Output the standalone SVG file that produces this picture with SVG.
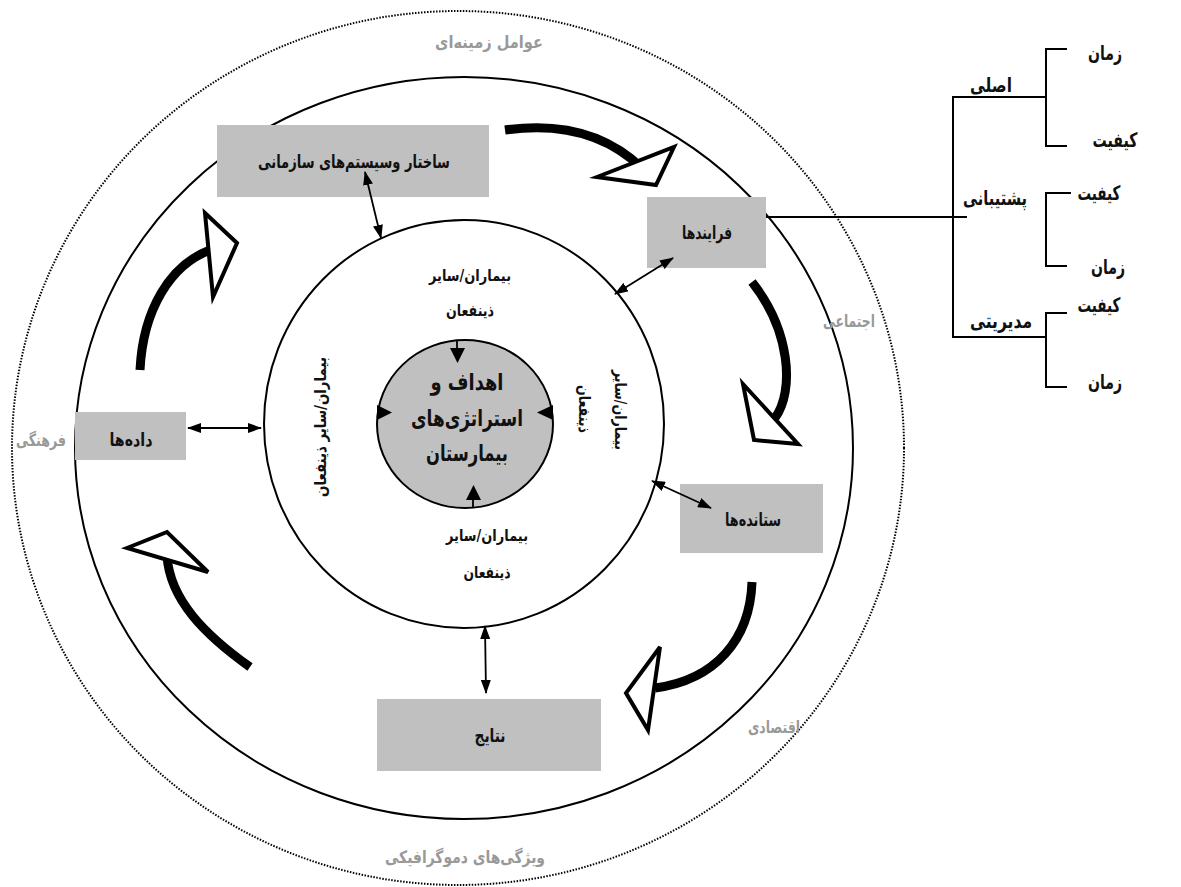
<svg xmlns="http://www.w3.org/2000/svg" width="1181" height="887" viewBox="0 0 1181 887">
<style>
  text { font-family: "DejaVu Sans", "Noto Sans", sans-serif; font-weight: bold; text-anchor: middle; dominant-baseline: central; direction: rtl; }
  .box { fill: #c0c0c0; stroke: none; }
  .lbl { font-size: 18px; fill: #111; }
  .ring { font-size: 16px; fill: #111; }
  .ctx { font-size: 17px; fill: #999; }
  .tree { font-size: 20px; fill: #111; }
  .core { font-size: 23px; fill: #111; }
  .thin { stroke: #000; stroke-width: 1.8; fill: none; marker-start: url(#ah); marker-end: url(#ah); }
  .body { stroke: #000; stroke-width: 9; fill: none; }
  .head { fill: #fff; stroke: #000; stroke-width: 4; stroke-linejoin: miter; }
  .tl { stroke: #000; stroke-width: 2; fill: none; }
</style>
<defs>
  <marker id="ah" viewBox="0 0 14 10" refX="13" refY="5" markerWidth="14" markerHeight="10" markerUnits="userSpaceOnUse" orient="auto-start-reverse">
    <path d="M0,0 L14,5 L0,10 z" fill="#000"/>
  </marker>
</defs>
<rect width="1181" height="887" fill="#fff"/>

<g id="rings">
  <ellipse cx="458" cy="448" rx="446" ry="437" fill="none" stroke="#000" stroke-width="2" stroke-dasharray="1.5 1.5"/>
  <ellipse cx="464" cy="448" rx="389" ry="371" fill="none" stroke="#000" stroke-width="2"/>
  <ellipse cx="464" cy="424" rx="200" ry="204" fill="#fff" stroke="#000" stroke-width="2"/>
</g>

<g id="context-labels">
  <text class="ctx" x="489" y="42" textLength="108" lengthAdjust="spacingAndGlyphs">عوامل زمینه‌ای</text>
  <text class="ctx" x="849" y="321" textLength="52" lengthAdjust="spacingAndGlyphs">اجتماعی</text>
  <text class="ctx" x="41" y="440" textLength="50" lengthAdjust="spacingAndGlyphs">فرهنگی</text>
  <text class="ctx" x="774" y="727" textLength="52" lengthAdjust="spacingAndGlyphs">اقتصادی</text>
  <text class="ctx" x="465" y="857" textLength="160" lengthAdjust="spacingAndGlyphs">ویژگی‌های دموگرافیکی</text>
</g>

<g id="core">
  <ellipse cx="465" cy="424" rx="88" ry="84" fill="#c0c0c0" stroke="#000" stroke-width="2"/>
  <text class="core" x="467" y="382" textLength="73" lengthAdjust="spacingAndGlyphs">اهداف و</text>
  <text class="core" x="467" y="418" textLength="112" lengthAdjust="spacingAndGlyphs">استراتژی‌های</text>
  <text class="core" x="467" y="453" textLength="82" lengthAdjust="spacingAndGlyphs">بیمارستان</text>
</g>

<g id="stakeholders">
  <text class="ring" x="470" y="275" textLength="82" lengthAdjust="spacingAndGlyphs">بیماران/سایر</text>
  <text class="ring" x="470" y="310" textLength="48" lengthAdjust="spacingAndGlyphs">ذینفعان</text>
  <text class="ring" x="487" y="535" textLength="82" lengthAdjust="spacingAndGlyphs">بیماران/سایر</text>
  <text class="ring" x="487" y="572" textLength="47" lengthAdjust="spacingAndGlyphs">ذینفعان</text>
  <text class="ring" transform="translate(320,427) rotate(-90)" textLength="140" lengthAdjust="spacingAndGlyphs">بیماران/سایر ذینفعان</text>
  <text class="ring" transform="translate(620,410) rotate(90)" textLength="80" lengthAdjust="spacingAndGlyphs">بیماران/سایر</text>
  <text class="ring" transform="translate(584,409) rotate(90)" textLength="48" lengthAdjust="spacingAndGlyphs">ذینفعان</text>
</g>

<g id="node-structure">
  <rect class="box" x="217" y="125" width="272" height="72"/>
  <text class="lbl" x="354" y="161" textLength="192" lengthAdjust="spacingAndGlyphs">ساختار وسیستم‌های سازمانی</text>
</g>
<g id="node-processes">
  <rect class="box" x="647" y="197" width="119" height="71"/>
  <text class="lbl" x="707" y="232" textLength="50" lengthAdjust="spacingAndGlyphs">فرایندها</text>
</g>
<g id="node-outputs">
  <rect class="box" x="680" y="484" width="143" height="69"/>
  <text class="lbl" x="753" y="519" textLength="56" lengthAdjust="spacingAndGlyphs">ستانده‌ها</text>
</g>
<g id="node-results">
  <rect class="box" x="377" y="699" width="224" height="72"/>
  <text class="lbl" x="490" y="735" textLength="31" lengthAdjust="spacingAndGlyphs">نتایج</text>
</g>
<g id="node-data">
  <rect class="box" x="75" y="412" width="111" height="48"/>
  <text class="lbl" x="131" y="439" textLength="43" lengthAdjust="spacingAndGlyphs">داده‌ها</text>
</g>

<g id="connectors">
  <line class="thin" x1="365" y1="172" x2="381" y2="238"/>
  <line class="thin" x1="673" y1="258" x2="615" y2="294"/>
  <line class="thin" x1="652" y1="481" x2="711" y2="508"/>
  <line class="thin" x1="188" y1="428" x2="261" y2="428"/>
  <line class="thin" x1="485" y1="626" x2="486" y2="693"/>

  <line x1="457" y1="340" x2="457" y2="350" stroke="#000" stroke-width="1.8"/>
  <polygon points="450,348 465,348 457.5,363" fill="#000"/>
  <polygon points="377,405 377,420 392,412.5" fill="#000"/>
  <polygon points="553,405 553,420 537,412.5" fill="#000"/>
  <line x1="473" y1="498" x2="473" y2="507" stroke="#000" stroke-width="1.8"/>
  <polygon points="466,500 481,500 473.5,485" fill="#000"/>

  <path class="body" d="M505,130 Q590,118 642,168"/>
  <polygon class="head" points="597,177 674,147 656,185"/>
  <path class="body" d="M752,282 C790,330 795,390 775,418"/>
  <polygon class="head" points="743,384 754,440 798,444"/>
  <path class="body" d="M752,582 C750,640 715,680 655,688"/>
  <polygon class="head" points="660,647 626,693 648,730"/>
  <path class="body" d="M250,667 C205,635 170,600 167,556"/>
  <polygon class="head" points="127,548 167,532 208,572"/>
  <path class="body" d="M140,370 C143,310 170,265 210,250"/>
  <polygon class="head" points="205,213 237,243 213,297"/>

  <path class="tl" d="M766,217 H967"/>
  <path class="tl" d="M1046,97 H953 V337 H1046"/>
  <path class="tl" d="M1067,49 H1046 V146 H1067"/>
  <path class="tl" d="M1071,193 H1046 V266 H1067"/>
  <path class="tl" d="M1067,313 H1046 V387 H1067"/>
</g>

<g id="tree-labels">
  <text class="tree" x="1105" y="53" textLength="34" lengthAdjust="spacingAndGlyphs">زمان</text>
  <text class="tree" x="991" y="85" textLength="42" lengthAdjust="spacingAndGlyphs">اصلی</text>
  <text class="tree" x="1115" y="140" textLength="45" lengthAdjust="spacingAndGlyphs">کیفیت</text>
  <text class="tree" x="995" y="198" textLength="64" lengthAdjust="spacingAndGlyphs">پشتیبانی</text>
  <text class="tree" x="1099" y="193" textLength="43" lengthAdjust="spacingAndGlyphs">کیفیت</text>
  <text class="tree" x="1108" y="267" textLength="34" lengthAdjust="spacingAndGlyphs">زمان</text>
  <text class="tree" x="1099" y="305" textLength="43" lengthAdjust="spacingAndGlyphs">کیفیت</text>
  <text class="tree" x="1001" y="321" textLength="62" lengthAdjust="spacingAndGlyphs">مدیریتی</text>
  <text class="tree" x="1105" y="382" textLength="34" lengthAdjust="spacingAndGlyphs">زمان</text>
</g>
</svg>
